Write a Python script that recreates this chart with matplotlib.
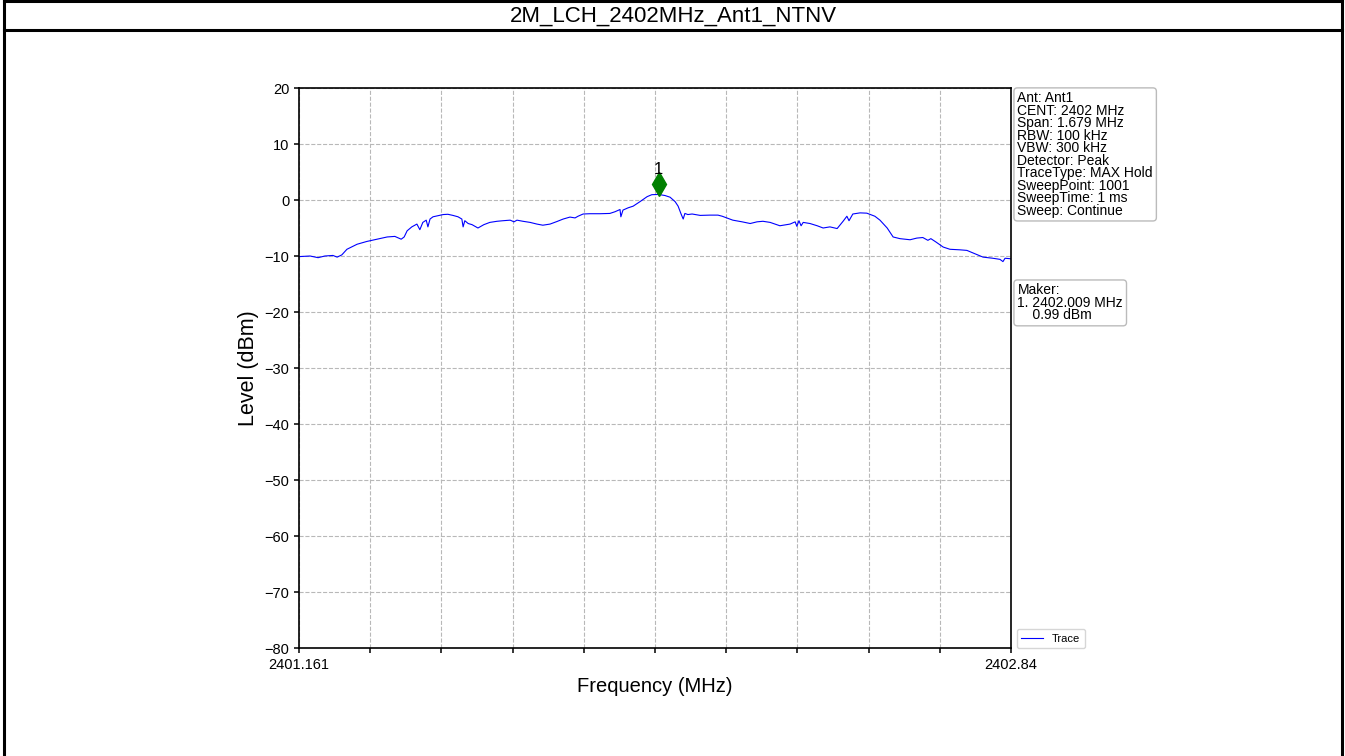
import numpy as np
import matplotlib
matplotlib.use("Agg")
import matplotlib.pyplot as plt
import matplotlib.transforms as mtransforms
from matplotlib.lines import Line2D

plt.rcParams['font.family'] = ['Liberation Sans', 'DejaVu Sans']

# trace (MHz, dBm)
freq_mhz = [2401.161, 2401.163, 2401.187, 2401.206, 2401.222, 2401.241, 2401.251, 2401.262, 2401.274,
            2401.298, 2401.321, 2401.345, 2401.369, 2401.387, 2401.402, 2401.409, 2401.416, 2401.427,
            2401.439, 2401.446, 2401.453, 2401.461, 2401.465, 2401.470, 2401.477, 2401.489, 2401.501,
            2401.512, 2401.524, 2401.536, 2401.545, 2401.548, 2401.552, 2401.560, 2401.569, 2401.583,
            2401.597, 2401.611, 2401.628, 2401.642, 2401.659, 2401.668, 2401.675, 2401.689, 2401.706,
            2401.722, 2401.736, 2401.753, 2401.769, 2401.784, 2401.800, 2401.812, 2401.819, 2401.831,
            2401.847, 2401.871, 2401.894, 2401.906, 2401.918, 2401.920, 2401.925, 2401.937, 2401.949,
            2401.965, 2401.982, 2401.993, 2402.009, 2402.024, 2402.036, 2402.048, 2402.055, 2402.062,
            2402.067, 2402.071, 2402.078, 2402.088, 2402.107, 2402.130, 2402.149, 2402.159, 2402.184,
            2402.206, 2402.225, 2402.241, 2402.255, 2402.272, 2402.295, 2402.319, 2402.331, 2402.335,
            2402.340, 2402.345, 2402.350, 2402.366, 2402.383, 2402.397, 2402.413, 2402.430, 2402.444,
            2402.453, 2402.458, 2402.467, 2402.484, 2402.500, 2402.519, 2402.531, 2402.548, 2402.562,
            2402.578, 2402.602, 2402.618, 2402.632, 2402.644, 2402.651, 2402.663, 2402.680, 2402.696,
            2402.720, 2402.736, 2402.755, 2402.774, 2402.797, 2402.814, 2402.821, 2402.826, 2402.840]
level_dbm = [-10.1, -10.1, -10.0, -10.3, -10.0, -9.9, -10.2, -9.8, -8.8,
             -7.9, -7.4, -7.0, -6.6, -6.5, -7.0, -6.6, -5.5, -4.8,
             -4.3, -5.3, -4.0, -3.6, -4.8, -3.4, -3.0, -2.8, -2.6,
             -2.55, -2.75, -3.0, -3.4, -4.8, -3.7, -4.2, -4.4, -5.0,
             -4.4, -4.0, -3.8, -3.7, -3.6, -3.9, -3.6, -3.8, -4.0,
             -4.3, -4.5, -4.3, -3.85, -3.4, -3.05, -3.2, -2.9, -2.5,
             -2.45, -2.45, -2.4, -2.1, -1.7, -3.0, -1.8, -1.4, -1.1,
             -0.3, 0.6, 0.95, 0.99, 0.8, 0.5, -0.3, -1.1, -2.5,
             -3.4, -2.4, -2.6, -2.5, -2.75, -2.7, -2.7, -2.9, -3.6,
             -3.9, -4.2, -3.9, -3.8, -4.0, -4.6, -4.3, -3.9, -4.7,
             -3.7, -4.6, -4.0, -4.2, -4.6, -5.0, -4.8, -5.1, -3.8,
             -2.9, -3.7, -2.5, -2.3, -2.35, -2.9, -3.6, -5.0, -6.6,
             -6.9, -7.1, -6.8, -6.7, -7.2, -6.9, -7.5, -8.4, -8.8,
             -8.9, -9.0, -9.6, -10.2, -10.4, -10.6, -11.0, -10.4, -10.5]

f_start = 2401.161
f_stop = 2402.84
marker_freq = 2402.009
marker_level = 0.99

settings = ["Ant: Ant1", "CENT: 2402 MHz", "Span: 1.679 MHz", "RBW: 100 kHz", "VBW: 300 kHz",
            "Detector: Peak", "TraceType: MAX Hold", "SweepPoint: 1001", "SweepTime: 1 ms",
            "Sweep: Continue"]
title = "2M_LCH_2402MHz_Ant1_NTNV"

W, H = 1345, 756
fig = plt.figure(figsize=(W / 100, H / 100), dpi=100)

# page frame around the picture
def px_line(x0, y0, x1, y1, lw=2.2):
    fig.add_artist(Line2D([x0 / W, x1 / W], [1 - y0 / H, 1 - y1 / H], color='black', lw=lw,
                          transform=fig.transFigure))

px_line(4, 1, 1342, 1)
px_line(4, 1, 4, 756)
px_line(1342, 1, 1342, 756)
px_line(4, 30, 1342, 30)
fig.text(673 / W, 1 - 16 / H, title, ha='center', va='center', fontsize=16)

ax = fig.add_axes([299 / W, 1 - 648 / H, 712 / W, 560 / H])
ax.plot(freq_mhz, level_dbm, color='blue', lw=0.8, label='Trace')

# marker drawn slightly above the peak
off = mtransforms.offset_copy(ax.transData, fig=fig, x=0, y=10, units='dots')
ax.plot([marker_freq], [marker_level], marker='d', color='green', markersize=12, transform=off)
off2 = mtransforms.offset_copy(ax.transData, fig=fig, x=0, y=17, units='dots')
ax.text(marker_freq, marker_level, '1', transform=off2, ha='center', va='bottom', fontsize=12)

ax.set_xlim(f_start, f_stop)
ax.set_ylim(-80, 20)
xt = np.linspace(f_start, f_stop, 11)
ax.set_xticks(xt)
ax.set_xticklabels(['2401.161'] + [''] * 9 + ['2402.84'])
ax.set_yticks(np.arange(-80, 21, 10))
ax.tick_params(labelsize=10.5, width=1.1)
for s in ax.spines.values():
    s.set_linewidth(1.2)
ax.grid(True, linestyle='--', color='#b8b8b8', lw=0.8)
ax.set_xlabel('Frequency (MHz)', fontsize=14.5)
ax.set_ylabel('Level (dBm)', fontsize=15.5)

box = dict(boxstyle='round,pad=0.25', fc='white', ec='#bbbbbb', lw=1)
ax.text(1.009, 0.994, "\n".join(settings), transform=ax.transAxes, va='top', ha='left',
        fontsize=10, linespacing=0.86, bbox=box)
ax.text(1.009, 0.651, "Maker:\n1. %.3f MHz\n    %.2f dBm" % (marker_freq, marker_level),
        transform=ax.transAxes, va='top', ha='left', fontsize=10, linespacing=0.86, bbox=box)
ax.legend(loc='lower left', bbox_to_anchor=(1.0, -0.01), fontsize=8, frameon=True)

fig.savefig('out.png', dpi=100)
